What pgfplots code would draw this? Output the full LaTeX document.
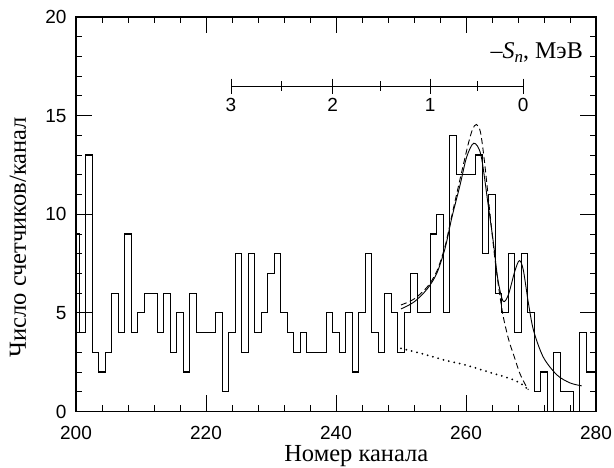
\documentclass[border=0pt]{standalone}
\usepackage{fontspec}
\setmainfont{Liberation Serif}
\setsansfont{Liberation Sans}
\usepackage{pgfplots}
\pgfplotsset{compat=1.18}
\begin{document}
\begin{tikzpicture}
\useasboundingbox (-76pt,-56.5pt) rectangle (538pt,411.5pt);
\begin{axis}[
 scale only axis, width=520pt, height=394.5pt,
 at={(0pt,0pt)}, anchor=south west,
 xmin=200, xmax=280, ymin=0, ymax=20,
 xtick={200,220,...,280}, ytick={0,5,...,20},
 minor x tick num=4, minor y tick num=4,
 tick align=inside, major tick length=16pt, minor tick length=6pt,
 tick style={black, line width=0.9pt},
 axis line style={line width=1.2pt},
 tick label style={font=\fontsize{19}{19}\selectfont\sffamily},
 /pgf/number format/assume math mode=true,
 xticklabel style={yshift=-11pt},
 yticklabel style={xshift=-6pt},
 xlabel={Номер канала}, ylabel={Число счетчиков/канал},
 label style={font=\fontsize{24.5}{24.5}\selectfont},
 xlabel style={at={(axis description cs:0.539,-0.112)}, anchor=center},
 ylabel style={at={(axis description cs:-0.1115,0.442)}, anchor=center},
]
% histogram
\addplot[const plot mark mid, no marks, line width=1.2pt, black] coordinates {
(200,9) (201,4) (202,13) (203,3) (204,2) (205,3) (206,6) (207,4) (208,9) (209,4)
(210,5) (211,6) (212,6) (213,4) (214,6) (215,3) (216,5) (217,2) (218,6) (219,4)
(220,4) (221,4) (222,5) (223,1) (224,4) (225,8) (226,3) (227,8) (228,4) (229,5)
(230,7) (231,8) (232,5) (233,4) (234,3) (235,4) (236,3) (237,3) (238,3) (239,5)
(240,4) (241,3) (242,5) (243,2) (244,5) (245,8) (246,4) (247,3) (248,6) (249,5)
(250,3) (251,5) (252,7) (253,5) (254,5) (255,9) (256,10) (257,5) (258,14) (259,12)
(260,12) (261,12) (262,13) (263,8) (264,11) (265,6) (266,5) (267,8) (268,4) (269,8)
(270,5) (271,1) (272,2) (273,0) (274,3) (275,1) (276,1) (277,0) (278,4) (279,2) (280,2)
};
% total fit (solid)
\addplot[smooth, line width=0.9pt, black] coordinates {
(250,5.2) (252,5.55) (254,6.2) (255.5,7.0) (256.8,8.3) (257.8,9.8) (259.1,11.5)
(260.1,12.9) (261.2,13.6) (262.3,13.0) (263.4,10.5) (264.2,8.6) (264.9,6.7)
(265.7,5.6) (266.5,5.9) (267.5,7.1) (268.2,7.65) (268.8,7.2) (269.6,5.5)
(270.4,4.1) (271.9,2.75) (274,1.85) (276,1.45) (277.8,1.3)
};
% dashed peak
\addplot[smooth, line width=0.9pt, black, dash pattern=on 6pt off 3.5pt] coordinates {
(250,5.4) (252,5.7) (254,6.3) (255.5,7.1) (256.8,8.4) (257.8,9.9) (259.1,11.8)
(260.3,13.5) (261.0,14.3) (261.6,14.55) (262.2,14.2) (262.8,12.8) (263.7,10.0)
(264.5,7.6) (265.2,5.9) (265.8,4.7) (266.6,3.6) (267.4,2.8) (268.2,2.0)
(268.9,1.5) (269.6,1.1)
};
% dotted background
\addplot[smooth, line width=2pt, black, line cap=round, dash pattern=on 0pt off 5.5pt] coordinates {
(250,3.2) (253,2.95) (256.8,2.6) (260,2.35) (264,1.95) (266.5,1.7) (268.3,1.45) (269.6,1.1)
};
% energy scale
\addplot[line width=0.9pt, black] coordinates {(223.85,16.5) (268.8,16.5)};
\addplot[only marks, mark=|, mark size=7.5pt, mark options={line width=0.9pt}, black]
 coordinates {(223.85,16.5) (239.5,16.5) (254.5,16.5) (268.8,16.5)};
\addplot[only marks, mark=|, mark size=5pt, mark options={line width=0.9pt}, black]
 coordinates {(231.6,16.5) (246.9,16.5) (261.7,16.5)};
\node[font=\fontsize{19}{19}\selectfont\sffamily] at (axis cs:223.85,15.55) {3};
\node[font=\fontsize{19}{19}\selectfont\sffamily] at (axis cs:239.5,15.55) {2};
\node[font=\fontsize{19}{19}\selectfont\sffamily] at (axis cs:254.5,15.55) {1};
\node[font=\fontsize{19}{19}\selectfont\sffamily] at (axis cs:268.8,15.55) {0};
\node[font=\fontsize{24}{24}\selectfont, anchor=base east, inner sep=0pt] at (axis cs:278,17.9)
 {–\textit{S}\raisebox{-0.4ex}{\fontsize{17}{17}\selectfont\itshape n}, МэВ};
\end{axis}
\end{tikzpicture}
\end{document}
